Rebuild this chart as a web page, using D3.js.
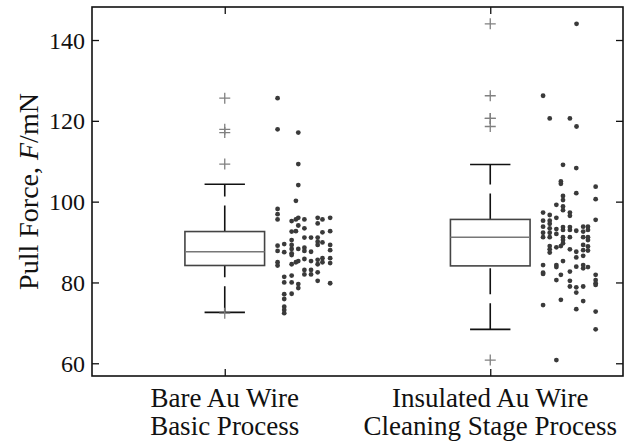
<!DOCTYPE html>
<html>
<head>
<meta charset="utf-8">
<script src="https://cdn.jsdelivr.net/npm/d3@7"></script>
<style>
  body { margin: 0; background: #fff; }
  svg text { font-family: "Liberation Serif", "DejaVu Serif", serif; fill: #111; }
</style>
</head>
<body>
<svg width="630" height="443"></svg>
<script>
// groups, two label lines each
const categories = [
  ['Bare Au Wire', 'Basic Process'],
  ['Insulated Au Wire', 'Cleaning Stage Process']
];

// box statistics (mN)
const lowerWhisker = [72.6, 68.4];
const q1 = [84.2, 84.1];
const median = [87.6, 91.2];
const q3 = [92.6, 95.6];
const upperWhisker = [104.3, 109.2];

const yTicks = [60, 80, 100, 120, 140];

// raw pull force values and their jitter (in category units, right of the box)
const basicValues = [
  125.6, 117.9, 117.1, 109.3, 104.1, 100.2,
  98.2, 96.9, 95.6, 95.2, 95.6, 96.0, 95.6,
  96.0, 94.6, 95.6, 96.0, 94.1, 93.4, 92.6, 92.7, 92.4, 92.7,
  91.1, 91.1, 91.1, 90.5, 89.3, 90.1, 89.3, 89.9,
  89.1, 89.5, 87.8, 87.5, 87.2, 88.3, 88.3, 88.6, 87.8, 87.6, 89.3, 88.0,
  85.0, 84.2, 84.5, 85.0, 85.3, 85.8, 85.3, 84.5, 85.6, 85.0, 86.0, 86.0, 84.8, 86.8,
  83.1, 83.1, 82.0, 82.0, 82.5, 81.7, 81.4, 80.0, 80.0,
  80.4, 79.8, 79.6, 78.6, 77.1, 77.2, 75.9, 74.0, 73.2, 72.4
];
const basicJitter = [
  0.199, 0.199, 0.277, 0.277, 0.277, 0.268,
  0.199, 0.199, 0.199, 0.252, 0.268, 0.277, 0.300,
  0.350, 0.350, 0.368, 0.397, 0.277, 0.300, 0.252, 0.268, 0.368, 0.397,
  0.300, 0.325, 0.350, 0.252, 0.252, 0.350, 0.350, 0.368,
  0.199, 0.224, 0.199, 0.224, 0.252, 0.252, 0.277, 0.300, 0.300, 0.325, 0.397, 0.397,
  0.199, 0.199, 0.252, 0.268, 0.277, 0.300, 0.325, 0.350, 0.350, 0.368, 0.368, 0.397, 0.397, 0.252,
  0.300, 0.325, 0.300, 0.325, 0.350, 0.252, 0.224, 0.224, 0.252,
  0.350, 0.397, 0.277, 0.277, 0.224, 0.252, 0.224, 0.224, 0.224, 0.224
];

const cleaningValues = [
  144.0, 126.2, 120.6, 120.6, 118.6, 109.1, 108.3,
  105.0, 104.4, 103.7, 102.1, 101.4, 100.4, 100.6,
  99.2, 98.8, 97.9, 97.3, 96.5, 97.3, 96.7, 96.0, 95.5,
  95.3, 95.3, 94.5,
  93.8, 93.4, 93.2, 93.7, 93.0, 93.7, 93.0, 92.8, 92.6, 93.8, 93.8, 93.0,
  92.3, 91.2, 92.3, 91.2, 92.0, 91.2, 90.5, 91.2, 91.2, 91.2, 90.5,
  89.0, 88.2, 87.4, 88.7, 89.0, 89.7, 88.2, 87.6, 86.2, 89.3, 88.0, 88.9, 87.9, 86.6,
  85.3, 84.3, 83.8, 84.3, 82.4, 82.1,
  82.7, 83.9, 84.3, 83.5, 83.8, 81.9, 80.6,
  80.4, 79.0, 78.8, 77.5, 79.0,
  81.9, 80.6, 79.8, 79.4,
  74.4, 75.7, 75.4, 73.4, 72.8, 68.4, 60.8
];
const cleaningJitter = [
  0.325, 0.199, 0.224, 0.300, 0.325, 0.274, 0.324,
  0.266, 0.266, 0.397, 0.324, 0.274, 0.274, 0.397,
  0.249, 0.274, 0.274, 0.300, 0.300, 0.199, 0.224, 0.249, 0.397,
  0.199, 0.224, 0.224,
  0.199, 0.224, 0.249, 0.274, 0.274, 0.300, 0.300, 0.324, 0.350, 0.350, 0.368, 0.368,
  0.199, 0.199, 0.224, 0.224, 0.249, 0.274, 0.274, 0.300, 0.350, 0.368, 0.368,
  0.224, 0.224, 0.224, 0.249, 0.266, 0.274, 0.300, 0.324, 0.324, 0.350, 0.350, 0.368, 0.368, 0.350,
  0.274, 0.249, 0.249, 0.199, 0.199, 0.199,
  0.300, 0.324, 0.350, 0.350, 0.368, 0.266, 0.249,
  0.300, 0.300, 0.324, 0.324, 0.350,
  0.397, 0.397, 0.397, 0.397,
  0.199, 0.266, 0.350, 0.324, 0.397, 0.397, 0.249
];

const groups = [
  { values: basicValues, jitter: basicJitter },
  { values: cleaningValues, jitter: cleaningJitter }
];

const width = 630;
const height = 443;
const margin = { top: 7, right: 7, bottom: 67, left: 92 };

const svg = d3.select('svg');

const xScale = d3.scaleLinear()
  .domain([0.5, 2.5])
  .range([margin.left, width - margin.right]);

const yScale = d3.scaleLinear()
  .domain([56.85, 148.17])
  .range([height - margin.bottom, margin.top]);

const boxHalf = 0.15;
const capHalf = 0.076;

// axes, ticks pointing inwards
const yAxisG = svg.append('g')
  .attr('transform', `translate(${margin.left},0)`)
  .call(d3.axisLeft(yScale).tickValues(yTicks).tickSizeInner(-7).tickSizeOuter(0).tickPadding(7));
yAxisG.selectAll('text').attr('font-size', 24).attr('dy', '0.34em');

svg.append('g')
  .attr('transform', `translate(${width - margin.right},0)`)
  .call(d3.axisRight(yScale).tickValues(yTicks).tickSizeInner(-7).tickSizeOuter(0).tickFormat(''));

svg.append('g')
  .attr('transform', `translate(0,${height - margin.bottom})`)
  .call(d3.axisBottom(xScale).tickValues([1, 2]).tickSizeInner(-7).tickSizeOuter(0).tickFormat(''));

svg.append('g')
  .attr('transform', `translate(0,${margin.top})`)
  .call(d3.axisTop(xScale).tickValues([1, 2]).tickSizeInner(-7).tickSizeOuter(0).tickFormat(''));

svg.selectAll('.domain').remove();
svg.selectAll('.tick line').attr('stroke', '#111').attr('stroke-width', 1.3);

const plot = svg.append('g');

// whiskers: dashed, drawn upwards
plot.selectAll('.whisker-up').data(categories)
  .enter().append('line')
    .attr('x1', (d, i) => xScale(i + 1))
    .attr('x2', (d, i) => xScale(i + 1))
    .attr('y1', (d, i) => yScale(q3[i]))
    .attr('y2', (d, i) => yScale(upperWhisker[i]))
    .attr('stroke', '#111')
    .attr('stroke-width', 1.6)
    .attr('stroke-dasharray', '26,9');

plot.selectAll('.whisker-down').data(categories)
  .enter().append('line')
    .attr('x1', (d, i) => xScale(i + 1))
    .attr('x2', (d, i) => xScale(i + 1))
    .attr('y1', (d, i) => yScale(lowerWhisker[i]))
    .attr('y2', (d, i) => yScale(q1[i]))
    .attr('stroke', '#111')
    .attr('stroke-width', 1.6)
    .attr('stroke-dasharray', '26,9');

// caps
const caps = [];
categories.forEach((c, i) => {
  caps.push({ i, v: upperWhisker[i] });
  caps.push({ i, v: lowerWhisker[i] });
});
plot.selectAll('.cap').data(caps)
  .enter().append('line')
    .attr('x1', d => xScale(d.i + 1 - capHalf))
    .attr('x2', d => xScale(d.i + 1 + capHalf))
    .attr('y1', d => yScale(d.v))
    .attr('y2', d => yScale(d.v))
    .attr('stroke', '#111')
    .attr('stroke-width', 1.6);

// boxes
plot.selectAll('.box').data(categories)
  .enter().append('rect')
    .attr('x', (d, i) => xScale(i + 1 - boxHalf))
    .attr('width', (d, i) => xScale(i + 1 + boxHalf) - xScale(i + 1 - boxHalf))
    .attr('y', (d, i) => yScale(q3[i]))
    .attr('height', (d, i) => yScale(q1[i]) - yScale(q3[i]))
    .attr('fill', 'none')
    .attr('stroke', '#444')
    .attr('stroke-width', 1.6);

plot.selectAll('.median').data(categories)
  .enter().append('line')
    .attr('x1', (d, i) => xScale(i + 1 - boxHalf))
    .attr('x2', (d, i) => xScale(i + 1 + boxHalf))
    .attr('y1', (d, i) => yScale(median[i]))
    .attr('y2', (d, i) => yScale(median[i]))
    .attr('stroke', '#777')
    .attr('stroke-width', 1.4);

// outliers as plus markers
const outliers = [];
groups.forEach((g, i) => {
  g.values.forEach(v => {
    if (v > upperWhisker[i] || v < lowerWhisker[i]) outliers.push({ i, v });
  });
});
plot.selectAll('.outlier').data(outliers)
  .enter().append('path')
    .attr('d', d => {
      const cx = xScale(d.i + 1), cy = yScale(d.v);
      return `M${cx - 5.5},${cy}H${cx + 5.5}M${cx},${cy - 5.5}V${cy + 5.5}`;
    })
    .attr('stroke', '#808080')
    .attr('stroke-width', 1.3)
    .attr('fill', 'none');

// jittered raw points
const points = [];
groups.forEach((g, i) => {
  g.values.forEach((v, j) => points.push({ x: i + 1 + g.jitter[j], v }));
});
plot.selectAll('.dot').data(points)
  .enter().append('circle')
    .attr('cx', d => xScale(d.x))
    .attr('cy', d => yScale(d.v))
    .attr('r', 2.4)
    .attr('fill', '#3a3a3a');

// frame
svg.append('rect')
  .attr('x', margin.left)
  .attr('y', margin.top)
  .attr('width', width - margin.left - margin.right)
  .attr('height', height - margin.top - margin.bottom)
  .attr('fill', 'none')
  .attr('stroke', '#111')
  .attr('stroke-width', 1.6);

// category labels, one text per line
const labelLines = [];
categories.forEach((c, i) => c.forEach((t, j) => labelLines.push({ i, j, t })));
svg.selectAll('.cat-label').data(labelLines)
  .enter().append('text')
    .attr('class', 'cat-label')
    .attr('text-anchor', 'middle')
    .attr('font-size', 27)
    .attr('x', d => xScale(d.i + 1))
    .attr('y', d => 407 + d.j * 28)
    .text(d => d.t);

// y axis title
const yTitle = svg.append('text')
  .attr('transform', `translate(38,${(margin.top + height - margin.bottom) / 2}) rotate(-90)`)
  .attr('text-anchor', 'middle')
  .attr('font-size', 28);
yTitle.append('tspan').text('Pull Force, ');
yTitle.append('tspan').attr('font-style', 'italic').text('F');
yTitle.append('tspan').text('/mN');
</script>
</body>
</html>
